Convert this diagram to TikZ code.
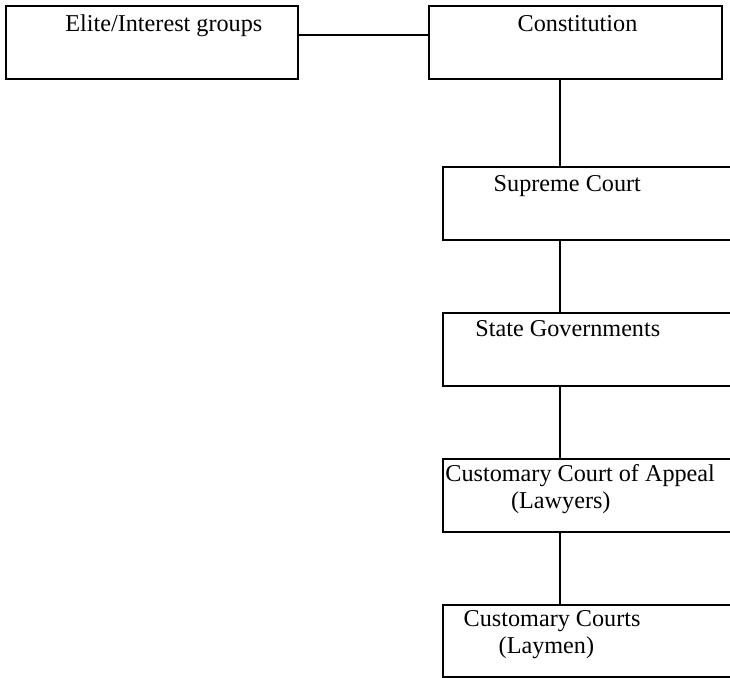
\documentclass[tikz,border=0pt]{standalone}
\usepackage{fontspec}
\setmainfont{Liberation Serif}
\usetikzlibrary{calc}
\begin{document}
\begin{tikzpicture}[x=0.5pt,y=-0.5pt,
 box/.style={draw, line width=1pt, rectangle, inner sep=0pt, outer sep=0pt},
 lbl/.style={anchor=base west, inner sep=0pt, font=\fontsize{12.1}{13.9}\selectfont},
 link/.style={line width=1pt}]
\useasboundingbox (0,0) rectangle (730,678);
\clip (0,0) rectangle (730,678);
% boxes
\node[box, minimum width=146pt, minimum height=36.75pt] (elite) at (151.5,42.75) {};
\node[box, minimum width=146.5pt, minimum height=36.75pt] (const) at (575,42.75) {};
\node[box, minimum width=158.35pt, minimum height=36.65pt] (sup) at (601.65,203.35) {};
\node[box, minimum width=158.35pt, minimum height=36.35pt] (state) at (601.65,349.65) {};
\node[box, minimum width=158.35pt, minimum height=36.35pt] (cca) at (601.65,495.35) {};
\node[box, minimum width=158.35pt, minimum height=36pt] (cc) at (601.65,641) {};
% labels
\node[lbl] (t1) at (65,31.7) {Elite/Interest groups};
\node[lbl] (t2) at (517.3,31.7) {Constitution};
\node[lbl] (t3) at (493.3,191.7) {Supreme Court};
\node[lbl] (t4) at (475,336.7) {State Governments};
\node[lbl] (t5) at (445,481.7) {Customary Court of Appeal};
\node[lbl] (t6) at (510.7,508.5) {(Lawyers)};
\node[lbl] (t7) at (463.3,626.7) {Customary Courts};
\node[lbl] (t8) at (498.3,653.5) {(Laymen)};
% connectors
\coordinate (spine) at (560,0);
\coordinate (row) at (0,35.5);
\draw[link] (elite.east |- row) -- (const.west |- row);
\draw[link] (const.south -| spine) -- (sup.north -| spine);
\draw[link] (sup.south -| spine) -- (state.north -| spine);
\draw[link] (state.south -| spine) -- (cca.north -| spine);
\draw[link] (cca.south -| spine) -- (cc.north -| spine);
\end{tikzpicture}
\end{document}
